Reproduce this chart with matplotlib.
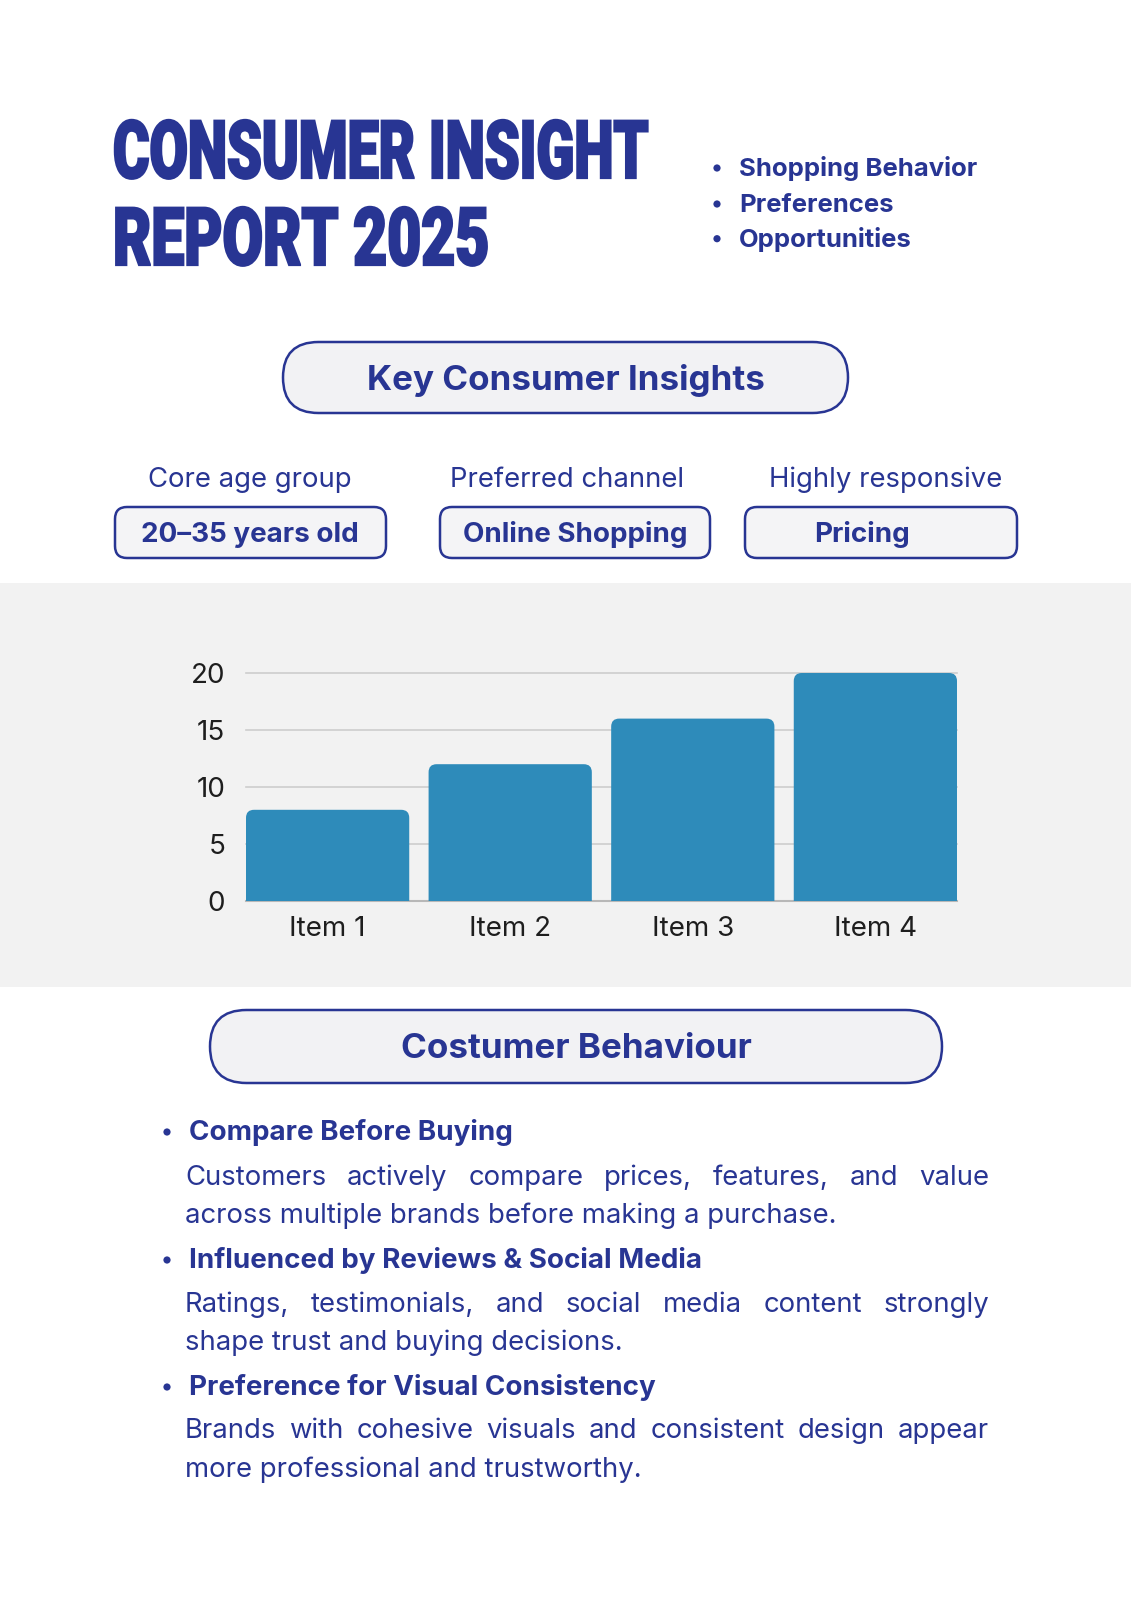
import matplotlib
matplotlib.use('Agg')
import numpy as np
import matplotlib.pyplot as plt
from matplotlib import font_manager as fm
from matplotlib.patches import FancyBboxPatch, Rectangle, Circle
from matplotlib.patheffects import AbstractPathEffect
from matplotlib.transforms import Affine2D

# ---------------- data ----------------
title_lines = ['CONSUMER INSIGHT', 'REPORT 2025']
topics = ['Shopping Behavior', 'Preferences', 'Opportunities']
section1_title = 'Key Consumer Insights'
insight_labels = ['Core age group', 'Preferred channel', 'Highly responsive']
insight_values = ['20–35 years old', 'Online Shopping', 'Pricing']
categories = ['Item 1', 'Item 2', 'Item 3', 'Item 4']
values = [8, 12, 16, 20]
yticks = [0, 5, 10, 15, 20]
section2_title = 'Costumer Behaviour'
behaviour_heads = ['Compare Before Buying',
                   'Influenced by Reviews & Social Media',
                   'Preference for Visual Consistency']
behaviour_lines = [
    ['Customers actively compare prices, features, and value',
     'across multiple brands before making a purchase.'],
    ['Ratings, testimonials, and social media content strongly',
     'shape trust and buying decisions.'],
    ['Brands with cohesive visuals and consistent design appear',
     'more professional and trustworthy.'],
]

# ---------------- style ----------------
W, H = 1131, 1600
NAVY = '#283593'
BAR = '#2e8bba'
BAND = '#f2f2f2'
PILL = '#f2f2f4'


def _w(f):
    w = f.weight
    if isinstance(w, str):
        w = fm.weight_dict.get(w, 400)
    return w


def has(name, minw=0):
    return any(f.name == name and _w(f) >= minw for f in fm.fontManager.ttflist)


BODY = 'Inter' if has('Inter', 600) else ('Roboto' if has('Roboto', 600) else 'DejaVu Sans')
TITLE = BODY
for nm in ['Roboto', 'Inter', 'Lato', 'Open Sans']:
    if has(nm, 800):
        TITLE = nm
        break

plt.rcParams['font.family'] = [BODY, 'DejaVu Sans']


class Stretch(AbstractPathEffect):
    """Stretch glyphs vertically around the baseline and fatten them slightly."""

    def __init__(self, sy, y0, lw=0.0, color=NAVY):
        super().__init__()
        self.sy, self.y0, self.lw, self.color = sy, y0, lw, color

    def draw_path(self, renderer, gc, tpath, affine, rgbFace=None):
        a = affine + Affine2D().translate(0, -self.y0).scale(1, self.sy).translate(0, self.y0)
        if self.lw > 0:
            gc0 = renderer.new_gc()
            gc0.copy_properties(gc)
            gc0.set_linewidth(self.lw)
            gc0.set_foreground(self.color)
            gc0.set_joinstyle('miter')
            renderer.draw_path(gc0, tpath, a, rgbFace)
            gc0.restore()
        renderer.draw_path(gc, tpath, a, rgbFace)


fig = plt.figure(figsize=(W / 100, H / 100), dpi=100)
fig.patch.set_facecolor('white')
bg = fig.add_axes([0, 0, 1, 1], zorder=0)
bg.set_xlim(0, W)
bg.set_ylim(H, 0)
bg.axis('off')
renderer = fig.canvas.get_renderer()

# gray band behind the chart
bg.add_patch(Rectangle((0, 583), W, 404, fc=BAND, ec='none'))

# ---------------- title ----------------
BASE_FS = 58
for line, base, target in zip(title_lines, [178, 265], [535, 376]):
    t = bg.text(113, base, line, fontfamily=[TITLE, 'DejaVu Sans'], fontweight='black',
                fontsize=BASE_FS, color=NAVY, ha='left', va='baseline')
    wnat = t.get_window_extent(renderer).width
    fs = BASE_FS * target / wnat
    t.set_fontsize(fs)
    y0 = bg.transData.transform((113, base))[1]
    t.set_path_effects([Stretch(BASE_FS / fs, y0, lw=1.6)])

# topics list (top right)
for name, base in zip(topics, [176, 212.0, 246.7]):
    bg.add_patch(Circle((717, base - 8), 3.6, fc=NAVY, ec='none'))
    bg.text(739, base, name, fontsize=18.5, fontweight='bold', color=NAVY,
            ha='left', va='baseline')

# ---------------- section 1 ----------------
bg.add_patch(FancyBboxPatch((283, 342), 565, 71,
                            boxstyle='round,pad=0,rounding_size=35.5',
                            fc=PILL, ec=NAVY, lw=1.8))
bg.text(565.5, 390, section1_title, fontsize=25.2, fontweight='bold', color=NAVY,
        ha='center', va='baseline')

label_cx = [250, 567, 886]
boxes = [(115, 271), (440, 270), (745, 272)]
value_cx = [250, 575, 862]
for lab, val, lcx, (bx, bw), vcx in zip(insight_labels, insight_values, label_cx, boxes, value_cx):
    bg.text(lcx, 486.7, lab, fontsize=19.8, color=NAVY, ha='center', va='baseline')
    bg.add_patch(FancyBboxPatch((bx, 507), bw, 51,
                                boxstyle='round,pad=0,rounding_size=12',
                                fc='#f4f4f6', ec=NAVY, lw=1.8))
    bg.text(vcx, 542.3, val, fontsize=20, fontweight='bold', color=NAVY,
            ha='center', va='baseline')

# ---------------- chart ----------------
ax = fig.add_axes([246 / W, 1 - 901 / H, 711 / W, 228 / H], zorder=2)
ax.set_facecolor('none')
bw_ = 0.894
xpos = np.arange(len(categories))
ax.set_xlim(-bw_ / 2, len(categories) - 1 + bw_ / 2)
ax.set_ylim(0, 20)
pxx = 711 / (len(categories) - 1 + bw_)
pxy = 228 / 20
rs = 8 / pxx
ma = pxx / pxy
bars = ax.bar(xpos, values, width=bw_, color=BAR, zorder=3)
for r in bars:
    ax.add_patch(FancyBboxPatch((r.get_x(), -2), r.get_width(), r.get_height() + 2,
                                boxstyle=f'round,pad=0,rounding_size={rs}',
                                mutation_aspect=ma, fc=BAR, ec='none', zorder=3))
    r.set_visible(False)
ax.set_yticks(yticks)
ax.set_xticks(xpos, categories)
ax.tick_params(axis='y', length=0, pad=15, labelsize=20, labelcolor='#1e1e1e')
ax.tick_params(axis='x', length=0, pad=10.5, labelsize=20, labelcolor='#1e1e1e')
ax.yaxis.grid(True, color='#cdcdcd', lw=1.2)
ax.xaxis.grid(False)
ax.set_axisbelow(True)
for gl in ax.get_ygridlines():
    gl.set_clip_on(False)
ax.axhline(0, color='#b8b8b8', lw=1.5, zorder=2, clip_on=False)
for s in ax.spines.values():
    s.set_visible(False)

# ---------------- section 2 ----------------
bg.add_patch(FancyBboxPatch((210, 1010), 732, 73,
                            boxstyle='round,pad=0,rounding_size=36.5',
                            fc=PILL, ec=NAVY, lw=1.8))
bg.text(576, 1058, section2_title, fontsize=25.2, fontweight='bold', color=NAVY,
        ha='center', va='baseline')

head_base = [1140, 1268, 1395]
body_base = [(1185, 1222.7), (1311.7, 1350), (1438.3, 1476.7)]
LX, RX = 185, 989
for head, lines, hb, (b1, b2) in zip(behaviour_heads, behaviour_lines, head_base, body_base):
    bg.add_patch(Circle((167, hb - 8), 3.6, fc=NAVY, ec='none'))
    bg.text(189, hb, head, fontsize=20, fontweight='bold', color=NAVY,
            ha='left', va='baseline')
    # first line justified
    words = lines[0].split(' ')
    wts = [bg.text(LX, b1, w, fontsize=19.8, color=NAVY, ha='left', va='baseline') for w in words]
    widths = [t.get_window_extent(renderer).width for t in wts]
    gap = (RX - LX - sum(widths)) / (len(words) - 1)
    xx = LX
    for t, wd in zip(wts, widths):
        t.set_x(xx)
        xx += wd + gap
    bg.text(LX, b2, lines[1], fontsize=19.8, color=NAVY, ha='left', va='baseline')

fig.savefig('out.png', dpi=100, facecolor='white')
